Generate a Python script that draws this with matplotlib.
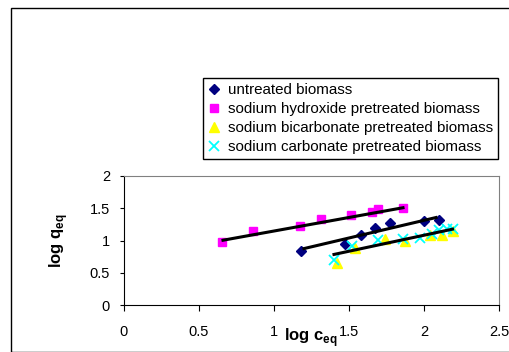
import numpy as np
import matplotlib
matplotlib.use("Agg")
import matplotlib.pyplot as plt
from matplotlib.patches import Rectangle

plt.rcParams["font.family"] = ["Liberation Sans", "DejaVu Sans"]
plt.rcParams["mathtext.fontset"] = "custom"
plt.rcParams["mathtext.rm"] = "Liberation Sans"
plt.rcParams["mathtext.bf"] = "Liberation Sans:bold"

# data (log c_eq, log q_eq)
untreated_x = [1.18, 1.47, 1.58, 1.67, 1.77, 2.00, 2.10]
untreated_y = [0.84, 0.95, 1.09, 1.20, 1.27, 1.30, 1.31]

naoh_x = [0.65, 0.86, 1.17, 1.31, 1.51, 1.65, 1.69, 1.86]
naoh_y = [0.97, 1.15, 1.23, 1.33, 1.40, 1.44, 1.48, 1.50]

bicarb_x = [1.42, 1.54, 1.74, 1.87, 2.04, 2.12, 2.19]
bicarb_y = [0.66, 0.88, 1.03, 0.99, 1.08, 1.09, 1.15]

carb_x = [1.40, 1.52, 1.69, 1.86, 1.97, 2.05, 2.10, 2.15, 2.19]
carb_y = [0.70, 0.91, 1.01, 1.02, 1.04, 1.10, 1.16, 1.18, 1.18]

# trend line end points
trend_naoh_x = [0.65, 1.87]
trend_naoh_y = [1.00, 1.51]
trend_untreated_x = [1.19, 2.09]
trend_untreated_y = [0.87, 1.36]
trend_carb_x = [1.39, 2.20]
trend_carb_y = [0.78, 1.18]

labels = ["untreated biomass",
          "sodium hydroxide pretreated biomass",
          "sodium bicarbonate pretreated biomass",
          "sodium carbonate pretreated biomass"]

fig = plt.figure(figsize=(5.10, 3.52), dpi=100)
W, H = 510.0, 352.0

# outer chart frame
fig.patches.append(Rectangle((11 / W, 0), 1.2, (352 - 8) / H, transform=fig.transFigure,
                             fill=False, edgecolor="black", linewidth=1.0))

ax = fig.add_axes([124 / W, (352 - 305.3) / H, 375 / W, 129.6 / H])

h1, = ax.plot(untreated_x, untreated_y, "D", color="#000080", markersize=5.5, linestyle="none")
h2, = ax.plot(naoh_x, naoh_y, "s", color="#FF00FF", markersize=6, linestyle="none")
h3, = ax.plot(bicarb_x, bicarb_y, "^", color="#FFFF00", markersize=7.5, linestyle="none")
h4, = ax.plot(carb_x, carb_y, "x", color="#00FFFF", markersize=7.5, markeredgewidth=1.3, linestyle="none")

for tx, ty in [(trend_naoh_x, trend_naoh_y), (trend_untreated_x, trend_untreated_y),
               (trend_carb_x, trend_carb_y)]:
    ax.plot(tx, ty, "-", color="black", linewidth=2.2, solid_capstyle="butt")

ax.set_xlim(0, 2.5)
ax.set_ylim(0, 2)
ax.set_xticks([0, 0.5, 1, 1.5, 2, 2.5])
ax.set_xticklabels(["0", "0.5", "1", "1.5", "2", "2.5"])
ax.set_yticks([0, 0.5, 1, 1.5, 2])
ax.set_yticklabels(["0", "0.5", "1", "1.5", "2"])
ax.tick_params(axis="x", direction="out", length=4, pad=10, labelsize=10.5)
ax.tick_params(axis="y", direction="out", length=3, pad=7, labelsize=10.5)
for s in ["left", "bottom"]:
    ax.spines[s].set_color("black")
for s in ["top", "right"]:
    ax.spines[s].set_color("#808080")

ax.set_xlabel(r"log c$_{\mathbf{eq}}$", fontsize=12, fontweight="bold")
ax.xaxis.set_label_coords(0.498, -0.16)
ax.set_ylabel(r"log q$_{\mathbf{eq}}$", fontsize=12, fontweight="bold")
ax.yaxis.set_label_coords(-0.145, 0.5)

leg = fig.legend([h1, h2, h3, h4], labels, loc="upper left",
                 bbox_to_anchor=(203 / W, (352 - 78) / H), fontsize=10.9,
                 frameon=True, fancybox=False, edgecolor="black", framealpha=1,
                 handlelength=0.8, handletextpad=0.55, labelspacing=0.33,
                 borderpad=0.32, borderaxespad=0)
leg.get_frame().set_linewidth(1.0)

fig.savefig("out.png", dpi=100)
